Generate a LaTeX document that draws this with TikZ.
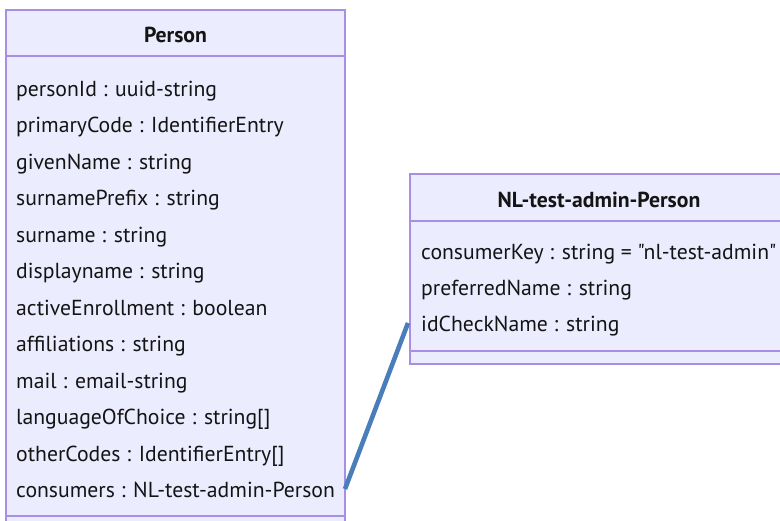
\documentclass[tikz,border=0pt]{standalone}
\usepackage{fontspec}
\setmainfont[Ligatures=TeXOff]{PT Sans}
\begin{document}
\begin{tikzpicture}[x=1pt,y=-1pt,
  classbox/.style={draw=boxline,fill=boxfill,line width=1.3pt},
  sepline/.style={draw=boxline,line width=1.3pt},
  attr/.style={anchor=base west,inner sep=0pt,text=txt,font=\fontsize{21.7}{26}\selectfont},
  title/.style={anchor=base,inner sep=0pt,text=txt,font=\fontsize{21.7}{26}\selectfont\bfseries},
  link/.style={draw=linkblue,line width=4.6pt}]
\definecolor{boxline}{HTML}{A98EE6}
\definecolor{boxfill}{HTML}{ECECFF}
\definecolor{txt}{HTML}{141414}
\definecolor{linkblue}{HTML}{4A7EBB}
\useasboundingbox (0,0) rectangle (780,521);
\clip (0,0) rectangle (780,521);
% Person class
\path[classbox] (6,10) rectangle (345,540);
\path[sepline] (6,56) -- (345,56);
\path[sepline] (6,516) -- (345,516);
\node[title] (ptitle) at (175.5,42.5) {Person};
\node[attr] (p1) at (16,96.5) {personId : uuid-string};
\node[attr] (p2) at (16,133) {primaryCode : IdentifierEntry};
\node[attr] (p3) at (16,169.5) {givenName : string};
\node[attr] (p4) at (16,206) {surnamePrefix : string};
\node[attr] (p5) at (16,242.5) {surname : string};
\node[attr] (p6) at (16,279) {displayname : string};
\node[attr] (p7) at (16,315.5) {activeEnrollment : boolean};
\node[attr] (p8) at (16,352) {affiliations : string};
\node[attr] (p9) at (16,388.5) {mail : email-string};
\node[attr] (p10) at (16,425) {languageOfChoice : string[]};
\node[attr] (p11) at (16,461.5) {otherCodes : IdentifierEntry[]};
\node[attr] (p12) at (16,498) {consumers : NL-test-admin-Person};
% NL-test-admin-Person class
\path[classbox] (410,174) rectangle (800,364);
\path[sepline] (410,221) -- (800,221);
\path[sepline] (410,351) -- (800,351);
\node[title] (ntitle) at (599,207.5) {NL-test-admin-Person};
\node[attr] (n1) at (421,259.5) {consumerKey : string = "nl-test-admin"};
\node[attr] (n2) at (421,295.5) {preferredName : string};
\node[attr] (n3) at (421,332) {idCheckName : string};
% connector
\coordinate (c1) at (345,489);
\coordinate (c2) at (408,323);
\draw[link] (c1) -- (c2);
\end{tikzpicture}
\end{document}
